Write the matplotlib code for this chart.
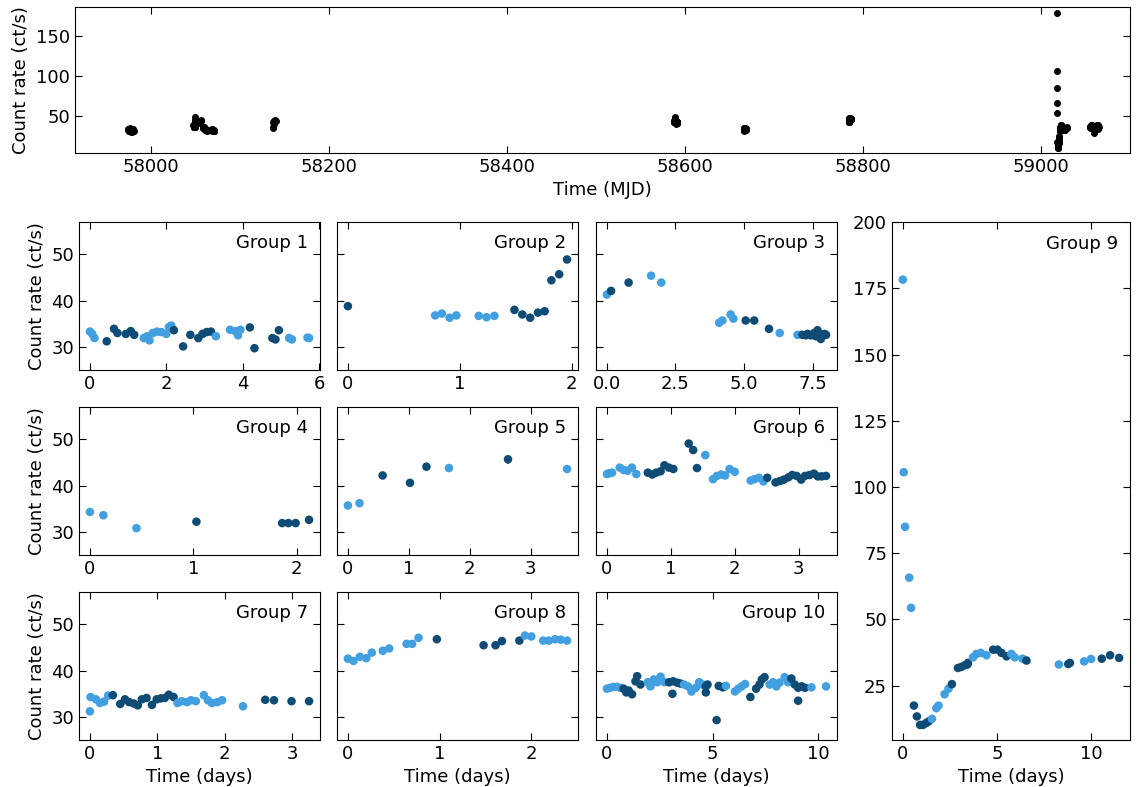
import numpy as np
import matplotlib
matplotlib.use("Agg")
import matplotlib.pyplot as plt

LIGHT = "#42a0e0"
DARK = "#0f4c75"

# group data: time (days), count rate (ct/s), colour flag (0 light, 1 dark)
g1_t = [0, 0.06, 0.12, 0.44, 0.63, 0.72, 0.94, 1.07, 1.16, 1.41, 1.50, 1.56, 1.65, 1.76, 1.87, 2.0, 2.07, 2.13,
        2.2, 2.44, 2.63, 2.84, 2.95, 3.06, 3.17, 3.3, 3.67, 3.81, 3.88, 3.94, 4.19, 4.31, 4.78, 4.86, 4.95,
        5.22, 5.29, 5.70, 5.74]
g1_y = [33.3, 32.8, 31.9, 31.2, 33.9, 33.0, 32.8, 33.4, 32.6, 31.9, 32.3, 31.4, 33.0, 33.3, 33.2, 32.8, 34.3, 34.6,
        33.6, 30.1, 32.6, 31.9, 32.8, 33.2, 33.3, 32.3, 33.7, 33.4, 32.5, 33.7, 34.2, 29.7, 31.9, 31.6, 33.6,
        31.9, 31.6, 32.0, 31.9]
g1_c = [0, 0, 0, 1, 1, 1, 1, 1, 1, 0, 0, 0, 0, 0, 0, 0, 0, 0,
        1, 1, 1, 1, 1, 1, 1, 0, 0, 0, 0, 0, 1, 1, 1, 1, 1,
        0, 0, 0, 0]

g2_t = [0, 0.78, 0.84, 0.91, 0.97, 1.17, 1.24, 1.31, 1.49, 1.56, 1.63, 1.70, 1.76, 1.82, 1.89, 1.96]
g2_y = [38.8, 36.8, 37.2, 36.3, 36.8, 36.7, 36.4, 36.7, 38.0, 37.0, 36.3, 37.4, 37.7, 44.4, 45.7, 48.9]
g2_c = [1, 0, 0, 0, 0, 0, 0, 0, 1, 1, 1, 1, 1, 1, 1, 1]

g3_t = [0, 0.15, 0.79, 1.61, 1.98, 4.09, 4.21, 4.51, 4.61, 5.06, 5.37, 5.91, 6.30, 6.95,
        7.13, 7.26, 7.32, 7.44, 7.56, 7.62, 7.68, 7.74, 7.80, 7.93, 7.99]
g3_y = [41.3, 42.1, 43.9, 45.4, 43.9, 35.2, 35.7, 37.0, 36.1, 35.7, 35.7, 33.9, 33.0, 32.6,
        32.6, 32.5, 32.8, 32.5, 33.0, 32.3, 33.6, 32.6, 31.7, 32.8, 32.6]
g3_c = [0, 1, 1, 0, 0, 0, 0, 0, 0, 1, 1, 1, 0, 0,
        1, 1, 1, 1, 1, 1, 1, 1, 1, 1, 1]

g4_t = [0, 0.13, 0.45, 1.03, 1.86, 1.92, 1.99, 2.12]
g4_y = [34.3, 33.6, 30.8, 32.2, 31.9, 31.9, 31.9, 32.6]
g4_c = [0, 0, 0, 1, 1, 1, 1, 1]

g5_t = [0, 0.19, 0.57, 1.02, 1.29, 1.66, 2.63, 3.60]
g5_y = [35.7, 36.2, 42.2, 40.6, 44.1, 43.8, 45.7, 43.6]
g5_c = [0, 0, 1, 1, 1, 0, 1, 0]

g6_t = [0, 0.04, 0.08, 0.20, 0.26, 0.32, 0.39, 0.46, 0.64, 0.71, 0.77, 0.84, 0.90, 0.97, 1.04,
        1.28, 1.35, 1.41, 1.54, 1.66, 1.72, 1.79, 1.85, 1.92, 2.0, 2.25, 2.31, 2.38, 2.45, 2.51,
        2.64, 2.71, 2.77, 2.84, 2.90, 2.97, 3.04, 3.10, 3.17, 3.24, 3.30, 3.36, 3.43]
g6_y = [42.5, 42.7, 42.8, 43.9, 43.4, 43.2, 43.9, 42.5, 42.8, 42.4, 42.8, 43.1, 44.4, 43.9, 43.6,
        49.1, 47.7, 43.8, 46.6, 41.4, 42.1, 42.4, 42.2, 43.6, 43.0, 41.1, 41.4, 41.7, 40.9, 41.7,
        40.7, 41.0, 41.3, 41.8, 42.3, 42.1, 41.3, 42.1, 42.3, 42.6, 42.0, 42.0, 42.1]
g6_c = [0, 0, 0, 0, 0, 0, 0, 0, 1, 1, 1, 1, 1, 1, 1,
        1, 1, 1, 0, 0, 0, 0, 0, 0, 0, 0, 0, 0, 0, 1,
        1, 1, 1, 1, 1, 1, 1, 1, 1, 1, 1, 1, 1]

g7_t = [0, 0.01, 0.09, 0.15, 0.21, 0.27, 0.34, 0.45, 0.52, 0.58, 0.65, 0.71, 0.77, 0.84, 0.92, 0.99,
        1.05, 1.11, 1.17, 1.24, 1.30, 1.36, 1.44, 1.50, 1.57, 1.69, 1.75, 1.81, 1.89, 1.96, 2.27,
        2.60, 2.73, 2.99, 3.25]
g7_y = [31.2, 34.3, 33.8, 33.0, 33.3, 34.6, 34.7, 32.8, 33.8, 33.2, 32.9, 32.5, 33.8, 34.1, 32.6, 33.8,
        34.0, 34.1, 34.8, 34.3, 33.0, 33.4, 33.2, 33.6, 33.4, 34.7, 33.6, 33.0, 33.2, 33.6, 32.3,
        33.7, 33.6, 33.4, 33.4]
g7_c = [0, 0, 0, 0, 0, 0, 1, 1, 1, 1, 1, 1, 1, 1, 1, 1,
        1, 1, 1, 1, 0, 0, 0, 0, 0, 0, 0, 0, 0, 0, 0,
        1, 1, 1, 1]

g8_t = [0, 0.06, 0.13, 0.20, 0.26, 0.38, 0.45, 0.64, 0.70, 0.77, 0.97, 1.48, 1.61, 1.68, 1.87,
        1.93, 2.0, 2.13, 2.19, 2.26, 2.32, 2.39]
g8_y = [42.6, 42.1, 43.0, 42.7, 43.9, 44.3, 44.8, 45.8, 45.8, 47.1, 46.8, 45.5, 45.5, 46.4, 46.5,
        47.6, 47.4, 46.5, 46.5, 46.8, 46.7, 46.5]
g8_c = [0, 0, 0, 0, 0, 0, 0, 0, 0, 0, 1, 1, 1, 1, 1,
        0, 0, 0, 0, 0, 0, 0]

g9_t = [0, 0.05, 0.12, 0.34, 0.44, 0.59, 0.75, 0.92, 1.07, 1.24, 1.37, 1.55, 1.78, 1.90, 2.22, 2.43,
        2.61, 2.93, 3.11, 3.29, 3.43, 3.46, 3.73, 3.91, 4.14, 4.44, 4.80, 5.03, 5.24, 5.51,
        5.77, 5.95, 6.36, 6.57, 8.29, 8.79, 8.88, 9.63, 10.0, 10.57, 11.01, 11.49]
g9_y = [178.3, 105.6, 85.0, 65.8, 54.4, 17.5, 13.4, 10.2, 10.2, 10.9, 11.5, 12.5, 16.5, 17.5, 21.8, 23.9,
        25.6, 31.7, 32.1, 32.7, 33.0, 33.6, 35.7, 37.0, 37.4, 36.5, 38.6, 38.6, 37.4, 36.1,
        37.0, 35.7, 35.2, 34.5, 33.0, 33.2, 33.6, 34.2, 35.1, 35.2, 36.5, 35.5]
g9_c = [0, 0, 0, 0, 0, 1, 1, 1, 1, 1, 1, 0, 0, 0, 0, 0,
        1, 1, 1, 1, 1, 1, 0, 0, 0, 0, 1, 1, 1, 1,
        0, 0, 0, 1, 0, 1, 1, 0, 0, 1, 1, 1]

g10_t = [0, 0.16, 0.32, 0.48, 0.63, 0.79, 0.92, 1.03, 1.19, 1.35, 1.43, 1.59, 1.94, 2.06, 2.22, 2.38,
         2.54, 2.73, 2.94, 3.1, 3.14, 3.33, 3.49, 3.65, 3.84, 4.0, 4.21, 4.37, 4.52, 4.68, 4.68, 4.76,
         5.19, 5.29, 5.48, 5.63, 6.06, 6.22, 6.38, 6.54, 6.79, 7.06, 7.22, 7.33, 7.46, 7.70, 7.86,
         8.02, 8.17, 8.41, 8.57, 8.73, 8.89, 9.05, 9.05, 9.21, 9.37, 9.68, 10.37]
g10_y = [36.1, 36.3, 36.5, 36.5, 36.3, 36.1, 35.3, 35.7, 34.9, 37.7, 38.8, 37.0, 37.5, 36.6, 38.1, 37.5,
         38.7, 37.5, 37.5, 35.0, 37.7, 37.4, 37.2, 37.0, 36.6, 35.5, 36.3, 37.5, 37.0, 36.6, 35.3, 37.0,
         29.3, 36.7, 36.4, 36.7, 35.5, 36.1, 36.6, 37.1, 34.3, 36.1, 37.0, 38.1, 38.6, 37.0, 37.5,
         36.6, 37.4, 38.6, 37.5, 38.3, 37.0, 36.3, 33.5, 36.6, 36.3, 36.4, 36.6]
g10_c = [0, 0, 0, 0, 0, 1, 1, 1, 1, 1, 1, 1, 0, 0, 0, 0,
         0, 0, 1, 1, 1, 1, 1, 0, 0, 0, 0, 0, 0, 1, 1, 1,
         1, 1, 1, 0, 0, 0, 0, 0, 1, 1, 1, 1, 1, 0, 0,
         0, 0, 0, 0, 1, 1, 1, 1, 1, 1, 0, 0]

# the few error bars that stick out beyond the markers: (group number, t, rate, err)
big_err = [(5, 2.63, 45.7, 1.0), (10, 6.79, 34.3, 0.9)]

# start of each group in MJD (for the overview panel)
group_start = [57975, 58048, 58055, 58069, 58137, 58588, 58666, 58784, 59018, 59055]

groups = [(g1_t, g1_y, g1_c), (g2_t, g2_y, g2_c), (g3_t, g3_y, g3_c), (g4_t, g4_y, g4_c),
          (g5_t, g5_y, g5_c), (g6_t, g6_y, g6_c), (g7_t, g7_y, g7_c), (g8_t, g8_y, g8_c),
          (g9_t, g9_y, g9_c), (g10_t, g10_y, g10_c)]

FS = 13
plt.rcParams["font.family"] = "DejaVu Sans"
plt.rcParams["font.size"] = FS


def style(ax):
    ax.tick_params(direction="in", top=True, right=True, length=5, labelsize=FS)


fig = plt.figure(figsize=(11.38, 7.87), dpi=100)

# overview panel
ax0 = fig.add_axes([0.0659, 0.8056, 0.927, 0.1855])
for (t, y, c), t0 in zip(groups, group_start):
    ax0.plot(np.array(t) + t0, y, "o", color="black", ms=4)
ax0.set_xlim(57915, 59100)
ax0.set_ylim(4, 186)
ax0.set_yticks([50, 100, 150])
ax0.set_xlabel("Time (MJD)", fontsize=FS)
ax0.set_ylabel("Count rate (ct/s)", fontsize=FS)
style(ax0)

lefts = [0.0694, 0.2961, 0.5237]
bottoms = [0.5299, 0.2948, 0.0597]
w, h = 0.2118, 0.188

layout = [(0, 0, 0, [0, 2, 4, 6]), (1, 0, 1, [0, 1, 2]), (2, 0, 2, [0.0, 2.5, 5.0, 7.5]),
          (3, 1, 0, [0, 1, 2]), (4, 1, 1, [0, 1, 2, 3]), (5, 1, 2, [0, 1, 2, 3]),
          (6, 2, 0, [0, 1, 2, 3]), (7, 2, 1, [0, 1, 2]), (9, 2, 2, [0, 5, 10])]

for gi, r, col, xt in layout:
    t, y, c = groups[gi]
    ax = fig.add_axes([lefts[col], bottoms[r], w, h])
    cols = [DARK if k else LIGHT for k in c]
    for g, et, ey, ee in big_err:
        if g == gi + 1:
            ax.errorbar(et, ey, yerr=ee, fmt="none", ecolor=DARK, elinewidth=1.2, zorder=2)
    ax.scatter(t, y, c=cols, s=38, zorder=3, linewidths=0)
    ax.set_ylim(25, 57)
    ax.set_yticks([30, 40, 50])
    ax.set_xticks(xt)
    if gi == 2:
        ax.set_xticklabels(["0.0", "2.5", "5.0", "7.5"])
    if col == 0:
        ax.set_ylabel("Count rate (ct/s)", fontsize=FS)
    else:
        ax.set_yticklabels([])
    if r == 2:
        ax.set_xlabel("Time (days)", fontsize=FS)
    ax.text(0.95, 0.92, f"Group {gi + 1}", transform=ax.transAxes, ha="right", va="top", fontsize=FS)
    style(ax)

# group 9, tall panel
t, y, c = groups[8]
ax9 = fig.add_axes([0.7838, 0.0597, 0.2091, 0.658])
ax9.scatter(t, y, c=[DARK if k else LIGHT for k in c], s=38, zorder=3, linewidths=0)
ax9.set_ylim(4.5, 200)
ax9.set_yticks([25, 50, 75, 100, 125, 150, 175, 200])
ax9.set_xticks([0, 5, 10])
ax9.set_xlabel("Time (days)", fontsize=FS)
ax9.text(0.95, 0.975, "Group 9", transform=ax9.transAxes, ha="right", va="top", fontsize=FS)
style(ax9)

fig.savefig("out.png", dpi=100)
